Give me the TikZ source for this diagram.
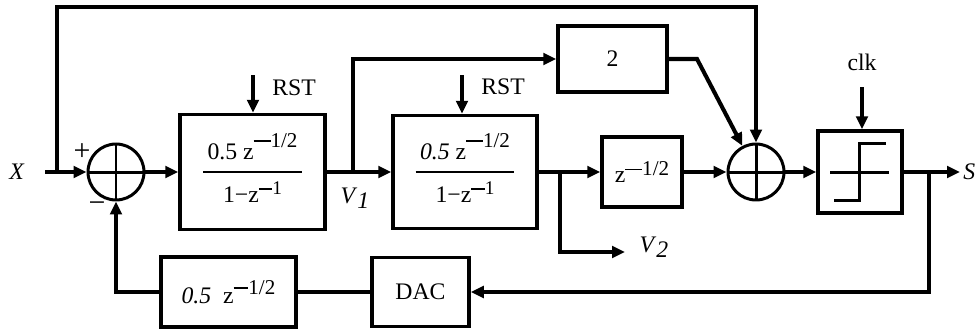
\documentclass[tikz,border=0pt]{standalone}
\usepackage{fontspec}
\setmainfont{Liberation Serif}
\usepackage{tikz}
\usetikzlibrary{arrows.meta,positioning,calc}

% long minus and raised exponent
\newcommand{\lminus}[1][0.8em]{\rule[0.26em]{#1}{0.08em}}
\newcommand{\zpow}[4][7pt]{\raisebox{#1}{\fontsize{#2}{#2}\selectfont\lminus[#3]#4}}
% fraction inside a block
\newcommand{\blkfrac}[2]{{\setlength{\arrayrulewidth}{0.8pt}%
  \begin{tabular}{@{\hspace{2.5pt}}c@{\hspace{2.5pt}}}
    \rule[-6.5pt]{0pt}{20pt}#1\\ \hline
    \rule{0pt}{17pt}#2
  \end{tabular}}}

\begin{document}
\begin{tikzpicture}[x=0.02cm,y=-0.02cm,
  font=\fontsize{13.5}{15}\selectfont,
  conn/.style={line width=2.3pt},
  arr/.style={conn,-{Triangle[length=7.4pt,width=6.6pt]}},
  blk/.style={draw,line width=2pt,inner sep=0pt},
  sign/.style={font=\fontsize{17}{18}\selectfont,inner sep=0pt},
  sumc/.style={draw,circle,line width=1.7pt,minimum size=1.12cm,inner sep=0pt}]

  \useasboundingbox (0,0) rectangle (977,329);

  % Sums
  \node[sumc] (s1) at (116,172) {};
  \node[sumc] (s2) at (756,172) {};
  \draw[line width=1.7pt] (s1.north) -- (s1.south) (s1.west) -- (s1.east);
  \draw[line width=1.7pt] (s2.north) -- (s2.south) (s2.west) -- (s2.east);

  % Blocks
  \node[blk,minimum width=2.9cm,minimum height=2.3cm] (b1) at (252.5,172)
    {\blkfrac{0.5 z\zpow{12}{0.8em}{1/2}}{1−z\zpow[4.5pt]{11}{0.7em}{1}}};
  \node[blk,minimum width=2.88cm,minimum height=2.26cm] (b2) at (465,172)
    {\blkfrac{\textit{0.5} z\zpow{12}{0.8em}{1/2}}{1−z\zpow[4.5pt]{11}{0.7em}{1}}};
  \node[blk,minimum width=1.6cm,minimum height=1.4cm] (zd) at (642,172)
    {z\zpow[3.6pt]{12}{0.8em}{1/2}};
  \node[blk,minimum width=2.18cm,minimum height=1.32cm] (g2) at (612.5,59) {2};
  \node[blk,minimum width=1.68cm,minimum height=1.64cm] (q) at (860,172) {};
  \node[blk,minimum width=1.94cm,minimum height=1.38cm] (dac) at (420.5,292) {DAC};
  \node[blk,minimum width=2.7cm,minimum height=1.4cm] (fb) at (228.5,292)
    {\textit{0.5}\hspace{0.5em}z\zpow[5pt]{12}{0.7em}{1/2}};

  % Quantizer
  \draw[line width=1.7pt] (830,172) -- (889,172);
  \draw[line width=1.7pt] (834,200) -- (859,200) -- (859,143) -- (886,143);

  % Forward path
  \coordinate (xs) at (45,172);
  \coordinate (jx) at (57,172);
  \coordinate (yout) at (960,172);
  \draw[arr] (xs) -- (s1.west);
  \draw[arr] (s1.east) -- (b1.west);
  \draw[arr] (b1.east) -- (b2.west);
  \draw[arr] (b2.east) -- (zd.west);
  \draw[arr] (zd.east) -- (s2.west);
  \draw[arr] (s2.east) -- (q.west);
  \draw[arr] (q.east) -- (yout);

  % Feedforward of X
  \coordinate (ytop) at (0,7);
  \draw[arr] (jx) -- (jx |- ytop) -| (s2.north);

  % V1 branch to gain 2
  \coordinate (jv1) at (353,172);
  \coordinate (bend) at (697,59);
  \draw[arr] (jv1) |- (g2.west);
  \draw[arr] (g2.east) -- (bend) -- (s2);

  % V2 branch
  \coordinate (jv2) at (560,172);
  \coordinate (v2end) at (625,252);
  \draw[arr] (jv2) |- (v2end);

  % Feedback
  \coordinate (jq) at (929,172);
  \draw[arr] (jq) |- (dac.east);
  \draw[conn] (dac.west) -- (fb.east);
  \draw[arr] (fb.west) -| (s1.south);

  % Reset and clock
  \coordinate (r1) at (253,75);
  \coordinate (r2) at (462,75);
  \coordinate (ck) at (862,87);
  \draw[arr] (r1) -- (r1 |- b1.north);
  \draw[arr] (r2) -- (r2 |- b2.north);
  \draw[arr] (ck) -- (ck |- q.north);

  % Labels
  \node (lx) at (17,172) {\textit{X}};
  \node (ls) [anchor=west,inner sep=0pt] at (963,172) {\textit{S}};
  \node (lv1) at (355,198) {\textit{V}\raisebox{-0.5ex}{\textit{1}}};
  \node (lv2) at (654,247) {\textit{V}\raisebox{-0.5ex}{\textit{2}}};
  \node (lr1) at (294,88) {RST};
  \node (lr2) at (503,87) {RST};
  \node (lck) at (862,62) {clk};
  \node[sign] (lp) at (82,152) {+};
  \node[sign] (lm) at (97,207) {−};
\end{tikzpicture}
\end{document}
